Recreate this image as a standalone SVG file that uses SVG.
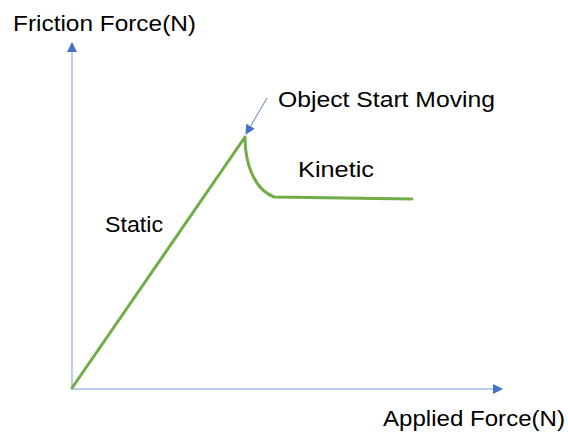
<svg xmlns="http://www.w3.org/2000/svg" width="568" height="434" viewBox="0 0 568 434">
  <style>
    .axis { stroke: #a9bde6; stroke-width: 1.5; fill: none; }
    .curve { stroke: #70ad47; stroke-width: 3; fill: none; stroke-linecap: round; stroke-linejoin: round; }
    .pointer { stroke: #4472c4; stroke-width: 0.9; fill: none; }
    .label { font-family: "Liberation Sans", Arial, sans-serif; font-size: 22px; fill: #000; }
  </style>
  <defs>
    <marker id="head" viewBox="0 0 10 10" refX="9" refY="5" markerWidth="10" markerHeight="10" markerUnits="userSpaceOnUse" orient="auto">
      <path d="M0,0 L10,5 L0,10 Z" fill="#4472c4"/>
    </marker>
  </defs>
  <rect width="568" height="434" fill="#ffffff"/>

  <g id="connectors">
    <line id="y-axis" class="axis" x1="72" y1="389" x2="72" y2="43" marker-end="url(#head)"/>
    <line id="x-axis" class="axis" x1="72" y1="389" x2="502" y2="389" marker-end="url(#head)"/>
    <path id="friction-curve" class="curve" d="M72,388 L245,137 C245,160 252,188 274,197 L412,199"/>
    <line id="start-pointer" class="pointer" x1="267" y1="98" x2="246" y2="134" marker-end="url(#head)"/>
  </g>

  <g id="y-label"><text class="label" x="13" y="31" textLength="183" lengthAdjust="spacingAndGlyphs">Friction Force(N)</text></g>
  <g id="x-label"><text class="label" x="383" y="426" textLength="182" lengthAdjust="spacingAndGlyphs">Applied Force(N)</text></g>
  <g id="start-label"><text class="label" x="278" y="107" textLength="217" lengthAdjust="spacingAndGlyphs">Object Start Moving</text></g>
  <g id="kinetic-label"><text class="label" x="298" y="177" textLength="76" lengthAdjust="spacingAndGlyphs">Kinetic</text></g>
  <g id="static-label"><text class="label" x="105" y="232" textLength="58" lengthAdjust="spacingAndGlyphs">Static</text></g>
</svg>
